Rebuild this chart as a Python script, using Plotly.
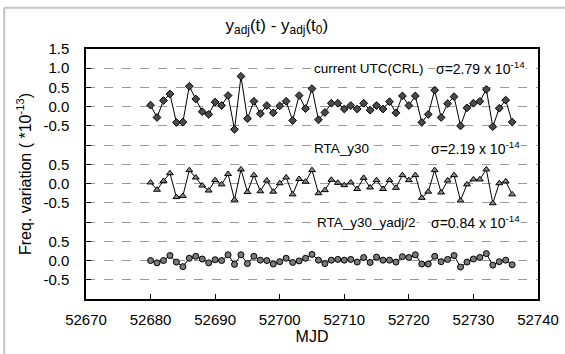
import plotly.graph_objects as go

mjd = list(range(52680, 52737))

utc_crl = [0.04, -0.28, 0.16, 0.33, -0.41, -0.40, 0.53, 0.20, -0.13, -0.20,
           0.12, 0.03, 0.29, -0.59, 0.79, -0.31, 0.14, -0.18, 0.03, -0.16,
           0.02, 0.14, -0.36, 0.29, -0.05, 0.47, -0.34, -0.15, 0.09, 0.09,
           -0.06, 0.03, -0.06, 0.09, -0.09, 0.03, -0.06, 0.13, -0.16, 0.28,
           0.03, 0.28, -0.41, -0.20, 0.43, -0.28, 0.08, 0.26, -0.50, -0.03,
           0.09, 0.14, 0.45, -0.52, -0.04, 0.17, -0.40]

rta_y30 = [0.03, -0.16, 0.07, 0.27, -0.35, -0.32, 0.35, 0.16, -0.05, -0.18,
           0.09, -0.02, 0.25, -0.42, 0.37, -0.22, 0.22, -0.20, 0.08, -0.21,
           0.01, 0.16, -0.28, 0.12, 0.05, 0.35, -0.25, -0.17, 0.10, 0.02,
           -0.04, 0.03, -0.14, 0.15, -0.10, 0.09, -0.14, 0.09, -0.11, 0.22,
           0.09, 0.22, -0.37, -0.21, 0.35, -0.23, 0.08, 0.22, -0.44, -0.02,
           0.11, 0.11, 0.37, -0.51, 0.01, 0.06, -0.28]

rta_y30_yadj2 = [0.00, -0.06, 0.00, 0.13, -0.04, -0.16, 0.06, 0.11, 0.04, -0.06,
                 0.02, 0.00, 0.15, -0.10, 0.15, -0.08, 0.11, 0.01, 0.00, -0.09,
                 -0.03, 0.06, -0.05, -0.01, 0.06, 0.16, 0.01, -0.08, 0.01, 0.03,
                 0.01, 0.03, -0.04, 0.08, -0.05, 0.09, 0.01, 0.01, -0.04, 0.10,
                 0.08, 0.15, -0.09, -0.09, 0.11, -0.03, 0.03, 0.13, -0.17, -0.04,
                 0.04, 0.08, 0.18, -0.12, -0.03, 0.01, -0.11]

series_names = ["current UTC(CRL)", "RTA_y30", "RTA_y30_yadj/2"]
sigma_labels = ["σ=2.79 x 10<sup>-14</sup>", "σ=2.19 x 10<sup>-14</sup>", "σ=0.84 x 10<sup>-14</sup>"]
offsets = [0.0, -2.0, -4.0]

y_tickvals = [1.5, 1.0, 0.5, 0.0, -0.5, -1.0, -1.5, -2.0, -2.5, -3.0, -3.5, -4.0, -4.5]
y_ticktext = ["1.5", "1.0", "0.5", "0.0", "-0.5", "", "0.5", "0.0", "-0.5", "", "0.5", "0.0", "-0.5"]
x_tickvals = [52670, 52680, 52690, 52700, 52710, 52720, 52730, 52740]

FONT = "Liberation Sans, Arial, Helvetica, sans-serif"

styles = [
    dict(symbol="diamond", size=6, color="#4a4a4a"),
    dict(symbol="triangle-up", size=6, color="#8a8a8a"),
    dict(symbol="circle", size=6, color="#7a7a7a"),
]

fig = go.Figure()
for vals, off, st, name in zip([utc_crl, rta_y30, rta_y30_yadj2], offsets, styles, series_names):
    fig.add_trace(go.Scatter(
        x=mjd, y=[v + off for v in vals], mode="lines+markers", name=name,
        line=dict(color="black", width=1),
        marker=dict(symbol=st["symbol"], size=st["size"], color=st["color"],
                    line=dict(color="black", width=1)),
        showlegend=False))

label_y = [1.0, -1.08, -3.0]
name_x = [52705.15, 52705.15, 52705.6]
sigma_x = [52724.05, 52723.27, 52723.27]
for nm, sg, yy, nx, sx in zip(series_names, sigma_labels, label_y, name_x, sigma_x):
    fig.add_annotation(x=nx, y=yy, text=nm, showarrow=False, xanchor="left", yanchor="middle",
                       font=dict(size=13.5, color="black", family=FONT), bgcolor="white", borderpad=0)
    fig.add_annotation(x=sx, y=yy, text=sg, showarrow=False, xanchor="left", yanchor="middle",
                       font=dict(size=14, color="black", family=FONT), bgcolor="white", borderpad=0)

# light gray outer frame (top and left)
fig.add_shape(type="line", xref="paper", yref="paper", x0=-0.181, x1=1.1, y0=1.165, y1=1.165,
              line=dict(color="#c4c4c4", width=2))
fig.add_shape(type="line", xref="paper", yref="paper", x0=-0.181, x1=-0.181, y0=1.165, y1=-0.25,
              line=dict(color="#c4c4c4", width=2))

fig.update_layout(
    width=565, height=354,
    margin=dict(l=86, r=27, t=49, b=55, autoexpand=False),
    paper_bgcolor="white", plot_bgcolor="white",
    font=dict(family=FONT, color="black"),
    title=dict(text="y<sub>adj</sub>(t) - y<sub>adj</sub>(t<sub>0</sub>)", x=0.49, xanchor="center",
               y=0.93, yanchor="middle", font=dict(size=17, family=FONT)),
)
fig.update_xaxes(range=[52670, 52740], tickvals=x_tickvals, tickformat="d", showgrid=False,
                 zeroline=False, automargin=False,
                 ticks="inside", ticklen=5, tickcolor="black", showline=True, linecolor="black",
                 linewidth=1.5, mirror=True, tickfont=dict(size=15), ticklabelstandoff=6,
                 title=dict(text="MJD", font=dict(size=16), standoff=0))
fig.update_yaxes(range=[-5.0, 1.5], tickvals=y_tickvals, ticktext=y_ticktext, showgrid=True,
                 gridcolor="#9a9a9a", griddash="dash", gridwidth=1, zeroline=False, automargin=False,
                 ticks="inside", ticklen=5, tickcolor="black", showline=True, linecolor="black",
                 linewidth=1.5, mirror=True, tickfont=dict(size=15), ticklabelstandoff=12,
                 title=dict(text="Freq. variation ( *10<sup>-13</sup>)", font=dict(size=16), standoff=8))

fig.write_html("out.html", config={"displayModeBar": False},
               post_script="document.body.style.margin='0';")
